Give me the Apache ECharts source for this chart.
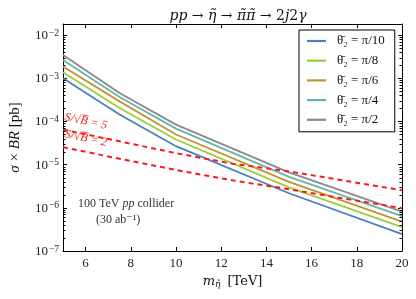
<!DOCTYPE html>
<html>
<head>
<meta charset="utf-8">
<script src="https://cdn.jsdelivr.net/npm/echarts@6/dist/echarts.min.js"></script>
<style>html,body{margin:0;padding:0;background:#fff;}#c{width:416px;height:299px;}</style>
</head>
<body>
<div id="c"></div>
<script>
// ---- data ----
const massTeV = [5, 7.5, 10, 15, 20];
const sigmaPi10 = [1.0e-3, 1.44e-4, 2.67e-5, 2.17e-6, 2.47e-7];
const sigmaPi8  = [1.38e-3, 2.05e-4, 3.81e-5, 2.98e-6, 3.57e-7];
const sigmaPi6  = [1.86e-3, 2.91e-4, 4.97e-5, 3.99e-6, 4.78e-7];
const sigmaPi4  = [2.65e-3, 3.67e-4, 6.82e-5, 5.21e-6, 6.40e-7];
const sigmaPi2  = [3.46e-3, 4.54e-4, 8.43e-5, 6.61e-6, 8.13e-7];
const massReach = [5, 7.5, 10, 12.5, 15, 17.5, 20];
const reachS5 = [6.47e-5, 3.46e-5, 1.84e-5, 1.05e-5, 6.96e-6, 4.21e-6, 2.55e-6];
const reachS2 = [2.53e-5, 1.37e-5, 7.52e-6, 4.32e-6, 2.69e-6, 1.62e-6, 9.8e-7];
const seriesNames = ['θ̄₂ = π/10', 'θ̄₂ = π/8', 'θ̄₂ = π/6', 'θ̄₂ = π/4', 'θ̄₂ = π/2'];
const xTickValues = [6, 8, 10, 12, 14, 16, 18, 20];
const minorDecades = [-7, -6, -5, -4, -3];
const minorMultipliers = [2, 3, 4, 5, 6, 7, 8, 9];

const colors = ['#4a80c0', '#9acd3a', '#c4922e', '#63b4b0', '#8a8a8a'];
const serif = 'Liberation Serif, DejaVu Serif, serif';
const dserif = 'DejaVu Serif, serif';

const sigmaSets = [sigmaPi10, sigmaPi8, sigmaPi6, sigmaPi4, sigmaPi2];
const pairs = (xs, ys) => xs.map((x, i) => [x, ys[i]]);

const minorTicks = [];
minorDecades.forEach(d => minorMultipliers.forEach(m => minorTicks.push([5, m * Math.pow(10, d)])));

const series = sigmaSets.map((s, i) => ({
  name: seriesNames[i], type: 'line', data: pairs(massTeV, s),
  showSymbol: false, symbol: 'none', lineStyle: {color: colors[i], width: 1.8}, itemStyle: {color: colors[i]},
  z: 3
}));
series.push({
  name: 'S5', type: 'line', data: pairs(massReach, reachS5), showSymbol: false, symbol: 'none',
  lineStyle: {color: '#ff1a1a', width: 2, type: [5, 4]}, z: 4
});
series.push({
  name: 'S2', type: 'line', data: pairs(massReach, reachS2), showSymbol: false, symbol: 'none',
  lineStyle: {color: '#ff1a1a', width: 2, type: [5, 4]}, z: 4
});
series.push({
  name: 'minor', type: 'custom', data: minorTicks, clip: false, silent: true, z: 10,
  xAxisIndex: 0, yAxisIndex: 0,
  dimensions: ['x', 'y'], encode: {x: 0, y: 1},
  renderItem: function (params, api) {
    const v = api.value(1);
    const pL = api.coord([5, v]);
    const pR = api.coord([20, v]);
    const y = Math.round(pL[1]) + 0.5;
    return {type: 'group', children: [
      {type: 'line', shape: {x1: pL[0], y1: y, x2: pL[0] + 2.5, y2: y}, style: {stroke: '#000', lineWidth: 1}},
      {type: 'line', shape: {x1: pR[0] - 2.5, y1: y, x2: pR[0], y2: y}, style: {stroke: '#000', lineWidth: 1}}
    ]};
  }
});

const supLabel = v => {
  const e = Math.round(Math.log10(v));
  return '{b|10}{s|−' + Math.abs(e) + '}';
};
const yLabelRich = {
  b: {fontFamily: serif, fontSize: 13, color: '#222', verticalAlign: 'bottom', lineHeight: 14},
  s: {fontFamily: serif, fontSize: 9.5, color: '#222', verticalAlign: 'top', padding: [0, 0, 7, 1], lineHeight: 14}
};

const chart = echarts.init(document.getElementById('c'), null, {renderer: 'canvas'});
chart.setOption({
  animation: false,
  backgroundColor: '#fff',
  title: {
    text: '{i|pp} → {i|η̃} → {i|π̃π̃} → 2{i|j}2{i|γ}',
    left: 233, top: 4, textAlign: 'center',
    textStyle: {fontFamily: dserif, fontSize: 14, fontWeight: 'normal', color: '#111',
      rich: {i: {fontFamily: dserif, fontSize: 14, fontStyle: 'italic', color: '#111'}}}
  },
  grid: {left: 59, right: 14, top: 24, bottom: 48, containLabel: false},
  legend: {
    data: seriesNames, orient: 'vertical', left: 299, top: 30, selectedMode: false,
    backgroundColor: '#fff', borderColor: '#000', borderWidth: 1, borderRadius: 0,
    padding: [4, 10, 5, 8], itemGap: 5.7, itemWidth: 19, itemHeight: 2.2, icon: 'rect',
    textStyle: {fontFamily: serif, fontSize: 13, color: '#111', lineHeight: 14, padding: [0, 0, 0, 6]}
  },
  xAxis: [{
    type: 'value', min: 5, max: 20, position: 'bottom',
    name: '{i|m}{sub|η̃} [TeV]', nameLocation: 'middle', nameGap: 18,
    nameTextStyle: {fontFamily: dserif, fontSize: 13, color: '#111',
      rich: {i: {fontFamily: dserif, fontSize: 13, fontStyle: 'italic', color: '#111'},
             sub: {fontFamily: dserif, fontSize: 9, fontStyle: 'italic', color: '#111', padding: [7, 3, 0, 0]}}},
    axisLine: {show: true, onZero: false, lineStyle: {color: '#000', width: 1}},
    axisTick: {show: true, inside: true, length: 4, customValues: xTickValues, lineStyle: {color: '#000'}},
    axisLabel: {customValues: xTickValues, margin: 6, fontFamily: serif, fontSize: 13, color: '#222'},
    splitLine: {show: false}
  }, {
    type: 'value', min: 5, max: 20, position: 'top',
    axisLine: {show: true, onZero: false, lineStyle: {color: '#000', width: 1}},
    axisTick: {show: true, inside: true, length: 4, customValues: xTickValues, lineStyle: {color: '#000'}},
    axisLabel: {show: false}, splitLine: {show: false}
  }],
  yAxis: [{
    type: 'log', logBase: 10, min: 1e-7, max: 0.018, position: 'left',
    name: '{i|σ} × {i|BR} [pb]', nameLocation: 'middle', nameGap: 40, nameRotate: 90,
    nameTextStyle: {fontFamily: serif, fontSize: 15, color: '#111',
      rich: {i: {fontFamily: serif, fontSize: 15, fontStyle: 'italic', color: '#111'}}},
    axisLine: {show: true, onZero: false, lineStyle: {color: '#000', width: 1}},
    axisTick: {show: true, inside: true, length: 4, lineStyle: {color: '#000'}},
    axisLabel: {formatter: supLabel, rich: yLabelRich, margin: 4, showMaxLabel: false},
    splitLine: {show: false}
  }, {
    type: 'log', logBase: 10, min: 1e-7, max: 0.018, position: 'right',
    axisLine: {show: true, onZero: false, lineStyle: {color: '#000', width: 1}},
    axisTick: {show: true, inside: true, length: 4, lineStyle: {color: '#000'}},
    axisLabel: {show: false}, splitLine: {show: false}
  }],
  series: series,
  graphic: [
    {type: 'text', x: 66, y: 111, rotation: -0.21, z: 20,
      style: {text: 'S/√B̅ = 5', font: 'italic 12px ' + serif, fill: '#ff1a1a'}},
    {type: 'text', x: 66, y: 128, rotation: -0.21, z: 20,
      style: {text: 'S/√B̅ = 2', font: 'italic 12px ' + serif, fill: '#ff1a1a'}},
    {type: 'text', x: 78, y: 198, z: 20,
      style: {rich: {i: {fontStyle: 'italic', fontFamily: serif, fontSize: 12, fill: '#333'}},
              text: '100 TeV {i|pp} collider', font: '12px ' + serif, fill: '#333'}},
    {type: 'text', x: 96, y: 214, z: 20,
      style: {text: '(30 ab⁻¹)', font: '12px ' + serif, fill: '#333'}}
  ]
});
</script>
</body>
</html>
